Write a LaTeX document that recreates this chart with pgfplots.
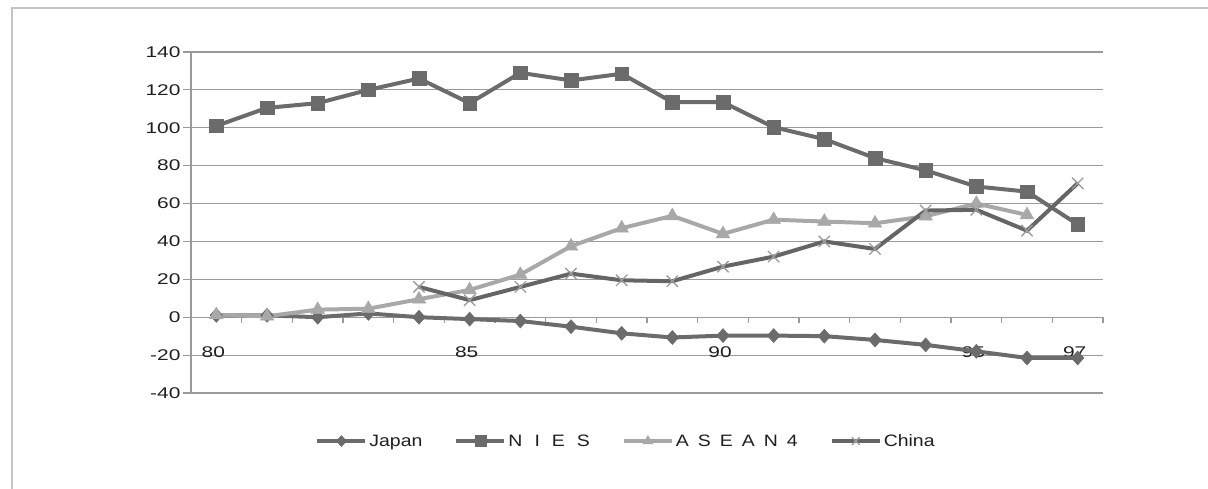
\documentclass[border=0pt]{standalone}
\usepackage{fontspec}
\setmainfont{Liberation Sans}[FakeStretch=1.35]
\newfontfamily\legfont{Liberation Sans}[FakeStretch=1.18]
\newcommand{\lf}{\legfont\fontsize{16.5pt}{18pt}\selectfont}
\usepackage{pgfplots}
\pgfplotsset{compat=1.18}
\definecolor{dk}{HTML}{6B6B6B}
\definecolor{lt}{HTML}{A8A8A8}
\definecolor{ch}{HTML}{656565}
\definecolor{chm}{HTML}{9C9C9C}
\definecolor{gridc}{HTML}{9A9A9A}
\definecolor{framec}{HTML}{C4C4C4}
\begin{document}
\begin{tikzpicture}
\path[use as bounding box] (0,0) rectangle (1208pt,489pt);
\draw[color=framec, line width=1.2pt] (12pt,0) -- (12pt,481pt) -- (1208pt,481pt);
\begin{axis}[
  at={(191pt,96pt)}, anchor=south west,
  scale only axis, width=912pt, height=341pt,
  xmin=79.5, xmax=97.5, ymin=-40, ymax=140,
  ytick={-40,-20,...,140},
  xtick={80,85,90,95,97},
  xticklabels={80,85,90,95,97},
  minor xtick={79.5,80.5,...,97.6},
  /pgf/number format/assume math mode=true,
  axis x line=middle, axis y line=left,
  axis line style={-, draw=gridc, line width=1.2pt},
  ymajorgrids, grid style={gridc, line width=1.2pt},
  tick align=outside,
  major tick length=8pt, minor tick length=6pt,
  major x tick style={draw=none},
  tick style={gridc, line width=1.2pt},
  xticklabel style={yshift=-18pt, xshift=-3pt, font=\fontsize{15.5pt}{17pt}\selectfont, text=black!88},
  yticklabel style={xshift=1pt, font=\fontsize{15.5pt}{17pt}\selectfont, text=black!88},
  legend style={at={(axis description cs:0.477,-0.141)}, anchor=center, draw=none,
    font=\lf, text=black!88,
    /tikz/every even column/.append style={column sep=30pt}},
  legend columns=4,
  legend image code/.code={\draw[line width=4pt, mark repeat=2,mark phase=2,mark size=5.5pt] plot coordinates {(0pt,0pt) (24pt,0pt) (48pt,0pt)};},
]
\addplot[color=dk, line width=4pt, mark=diamond*, mark size=7pt, mark options={solid, line width=0.5pt, xscale=1.2}] coordinates {
(80,1) (81,1) (82,0) (83,2) (84,0) (85,-1) (86,-2) (87,-5) (88,-8.5) (89,-10.7)
(90,-9.7) (91,-9.7) (92,-10) (93,-12) (94,-14.6) (95,-18) (96,-21.5) (97,-21.5)};
\addlegendentry{\lf Japan}
\addplot[color=dk, line width=4pt, mark=square*, mark size=6.8pt, mark options={solid, line width=0.5pt}] coordinates {
(80,101) (81,110.5) (82,113) (83,120) (84,126) (85,113) (86,129) (87,125) (88,128.5) (89,113.5)
(90,113.5) (91,100.3) (92,94) (93,84) (94,77.5) (95,69) (96,66.3) (97,49)};
\addlegendentry{\lf N\hspace{12pt}I\hspace{12pt}E\hspace{12pt}S}
\addplot[color=lt, line width=4pt, mark=triangle*, mark size=7.8pt, mark options={solid, line width=0.5pt}] coordinates {
(80,1.2) (81,0.5) (82,4) (83,4.5) (84,9.5) (85,14.4) (86,22.5) (87,37.5) (88,47) (89,53.5)
(90,44) (91,51.5) (92,50.5) (93,49.6) (94,53.3) (95,60) (96,54)};
\addlegendentry{\lf A\hspace{9pt}S\hspace{9pt}E\hspace{9pt}A\hspace{9pt}N\hspace{9pt}4}
\addplot[color=ch, line width=4pt, mark=x, mark size=8pt, mark options={solid, draw=chm, line width=1.3pt}] coordinates {
(84,16) (85,9) (86,16) (87,23) (88,19.5) (89,19) (90,26.7) (91,32) (92,40) (93,36)
(94,56.3) (95,56.7) (96,45.7) (97,70.7)};
\addlegendentry{\lf China}
\end{axis}
\end{tikzpicture}
\end{document}
